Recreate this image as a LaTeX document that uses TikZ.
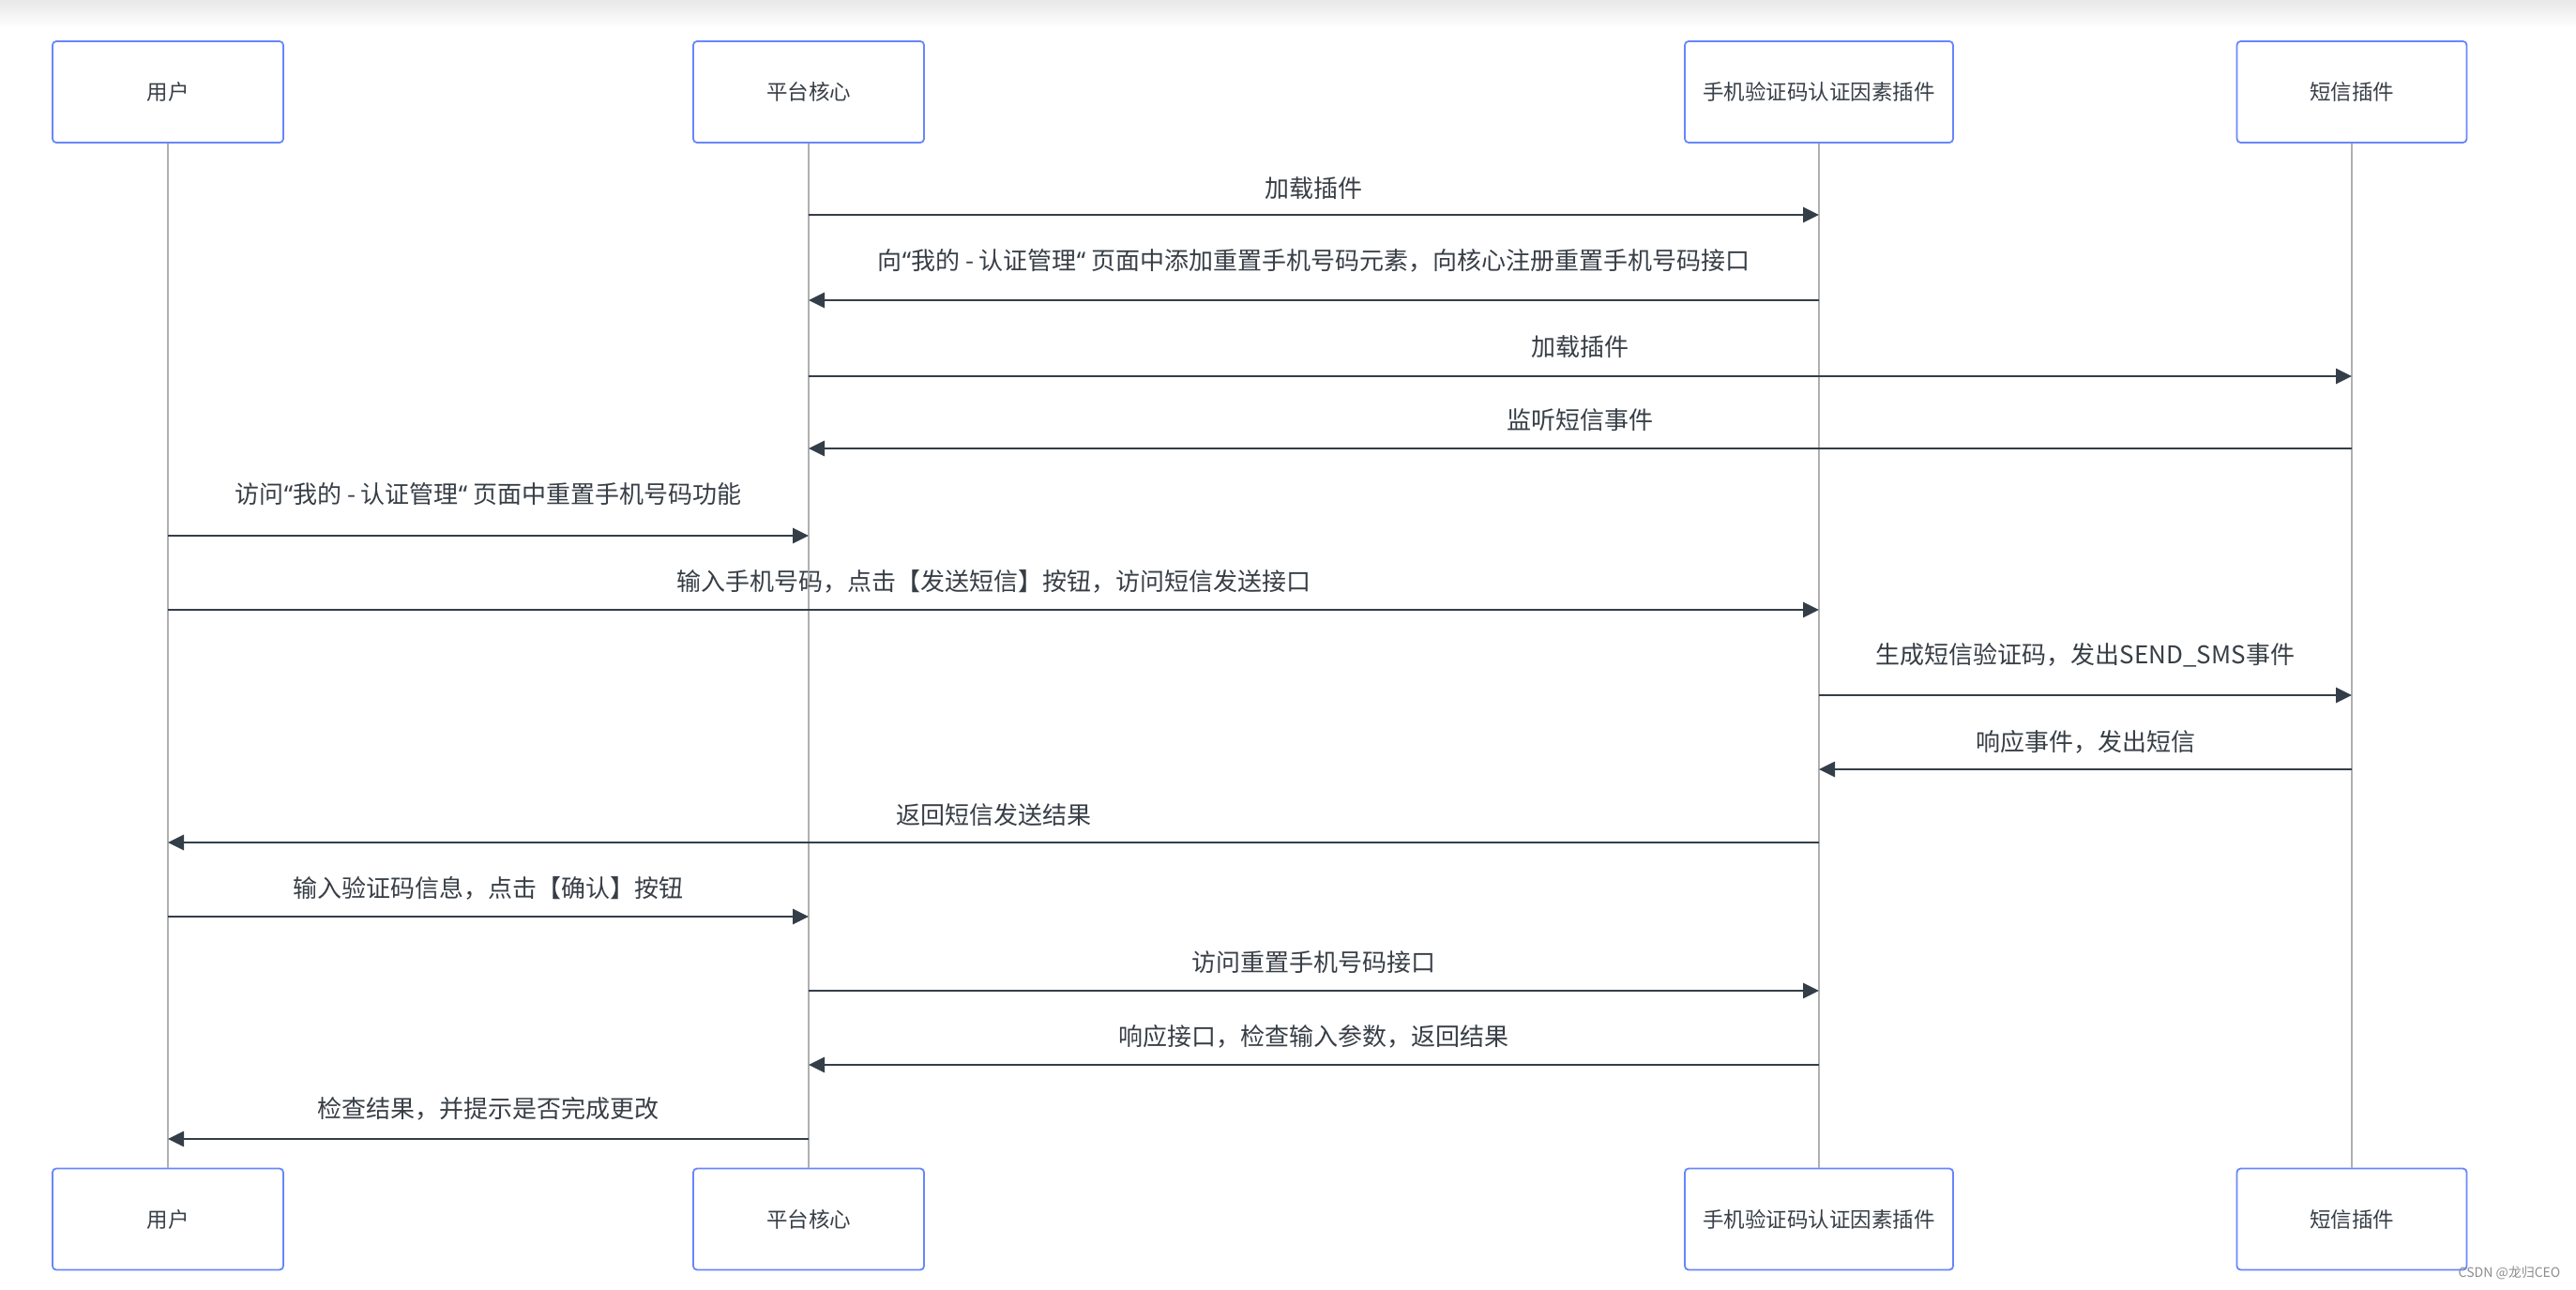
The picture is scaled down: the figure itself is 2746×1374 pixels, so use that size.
\documentclass[tikz,border=0pt]{standalone}
\usepackage{fontspec}
\setmainfont{Noto Sans CJK SC}
\newfontfamily\latq{Noto Sans}
\usetikzlibrary{arrows.meta}
\definecolor{boxblue}{RGB}{104,134,252}
\definecolor{lifegray}{RGB}{176,176,176}
\definecolor{msgdark}{RGB}{51,62,72}
\definecolor{txtdark}{RGB}{55,62,70}
\newcommand{\oq}{{\latq “}}
\begin{document}
\begin{tikzpicture}[x=1pt,y=-1pt,
  actorbox/.style={draw=boxblue,line width=1.8pt,rounded corners=4pt,fill=white,
    minimum height=108pt,inner sep=0pt,text=txtdark,font=\fontsize{22.5}{26}\selectfont},
  lifeline/.style={draw=lifegray,line width=2.6pt},
  msg/.style={draw=msgdark,line width=2.8pt,-{Triangle[length=17pt,width=16pt]}},
  msglabel/.style={text=txtdark,font=\fontsize{26}{30}\selectfont,inner sep=0pt}]
\useasboundingbox (0,0) rectangle (2746,1374);
\shade[top color=black!9,bottom color=white] (0,0) rectangle (2746,30);

% top actors
\node[actorbox,minimum width=246pt] (u1) at (179,98) {用户};
\node[actorbox,minimum width=246pt] (p1) at (862,98) {平台核心};
\node[actorbox,minimum width=286pt] (m1) at (1939,98) {手机验证码认证因素插件};
\node[actorbox,minimum width=245pt] (s1) at (2507,98) {短信插件};
% bottom actors
\node[actorbox,minimum width=246pt] (u2) at (179,1299.5) {用户};
\node[actorbox,minimum width=246pt] (p2) at (862,1299.5) {平台核心};
\node[actorbox,minimum width=286pt] (m2) at (1939,1299.5) {手机验证码认证因素插件};
\node[actorbox,minimum width=245pt] (s2) at (2507,1299.5) {短信插件};

% lifelines
\draw[lifeline] (u1.south) -- (u2.north);
\draw[lifeline] (p1.south) -- (p2.north);
\draw[lifeline] (m1.south) -- (m2.north);
\draw[lifeline] (s1.south) -- (s2.north);

% messages
\draw[msg] (p1.south |- 0,229) -- (m1.south |- 0,229);
\node[msglabel] (l1) at (1400.5,201) {加载插件};

\draw[msg] (m1.south |- 0,320) -- (p1.south |- 0,320);
\node[msglabel] (l2) at (1400.5,278) {向\oq 我的 - 认证管理\oq\ 页面中添加重置手机号码元素，向核心注册重置手机号码接口};

\draw[msg] (p1.south |- 0,401) -- (s1.south |- 0,401);
\node[msglabel] (l3) at (1684.5,370) {加载插件};

\draw[msg] (s1.south |- 0,478) -- (p1.south |- 0,478);
\node[msglabel] (l4) at (1684.5,448) {监听短信事件};

\draw[msg] (u1.south |- 0,571) -- (p1.south |- 0,571);
\node[msglabel] (l5) at (520.5,527) {访问\oq 我的 - 认证管理\oq\ 页面中重置手机号码功能};

\draw[msg] (u1.south |- 0,650) -- (m1.south |- 0,650);
\node[msglabel] (l6) at (1059,620) {输入手机号码，点击【发送短信】按钮，访问短信发送接口};

\draw[msg] (m1.south |- 0,741) -- (s1.south |- 0,741);
\node[msglabel] (l7) at (2223,698) {生成短信验证码，发出SEND\_SMS事件};

\draw[msg] (s1.south |- 0,820) -- (m1.south |- 0,820);
\node[msglabel] (l8) at (2223,791) {响应事件，发出短信};

\draw[msg] (m1.south |- 0,898) -- (u1.south |- 0,898);
\node[msglabel] (l9) at (1059,869) {返回短信发送结果};

\draw[msg] (u1.south |- 0,977) -- (p1.south |- 0,977);
\node[msglabel] (l10) at (520.5,947) {输入验证码信息，点击【确认】按钮};

\draw[msg] (p1.south |- 0,1056) -- (m1.south |- 0,1056);
\node[msglabel] (l11) at (1400.5,1026) {访问重置手机号码接口};

\draw[msg] (m1.south |- 0,1135) -- (p1.south |- 0,1135);
\node[msglabel] (l12) at (1400.5,1105) {响应接口，检查输入参数，返回结果};

\draw[msg] (p1.south |- 0,1214) -- (u1.south |- 0,1214);
\node[msglabel] (l13) at (520.5,1182) {检查结果，并提示是否完成更改};

% watermark
\node[text=black!45,font=\fontsize{14}{16}\selectfont,inner sep=0pt] (wm) at (2675,1357) {CSDN @龙归CEO};
\end{tikzpicture}
\end{document}
